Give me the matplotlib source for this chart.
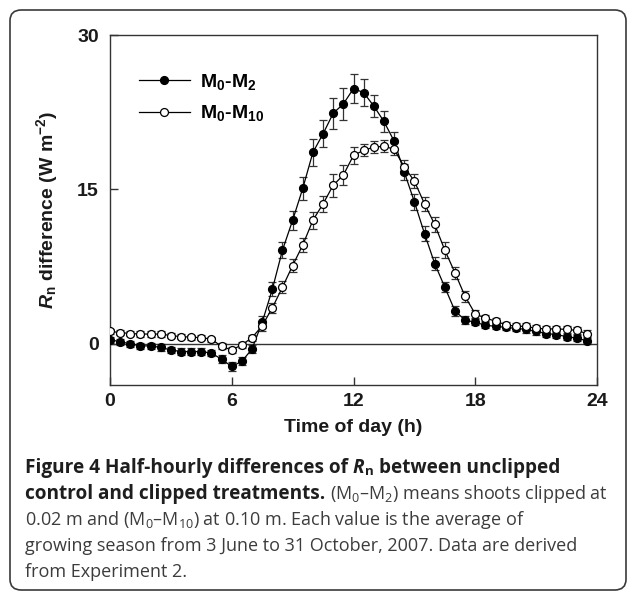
import numpy as np
import matplotlib
matplotlib.use("Agg")
import matplotlib.pyplot as plt
from matplotlib.patches import FancyBboxPatch

# ---------------- data ----------------
hours = np.arange(48) * 0.5  # half-hourly time of day (h)

m0_m2 = [0.4, 0.2, 0.0, -0.2, -0.2, -0.35, -0.6, -0.75, -0.75, -0.75,
         -0.9, -1.5, -2.2, -1.7, -0.5, 2.1, 5.3, 9.1, 12.0, 15.1,
         18.6, 20.4, 22.4, 23.3, 24.8, 24.4, 23.1, 21.6, 19.7, 16.7,
         13.8, 10.7, 7.8, 5.5, 3.2, 2.3, 2.1, 1.8, 1.7, 1.6,
         1.5, 1.4, 1.2, 1.0, 0.9, 0.7, 0.55, 0.3]
m0_m2_err = [0.3, 0.3, 0.3, 0.3, 0.3, 0.3, 0.3, 0.3, 0.3, 0.3,
             0.3, 0.4, 0.4, 0.4, 0.4, 0.6, 0.7, 0.8, 0.9, 1.1,
             1.3, 1.3, 1.5, 1.6, 1.4, 1.3, 1.1, 1.0, 0.9, 0.8,
             0.8, 0.7, 0.6, 0.5, 0.5, 0.4, 0.3, 0.3, 0.3, 0.3,
             0.3, 0.3, 0.3, 0.3, 0.3, 0.3, 0.3, 0.3]

m0_m10 = [1.2, 1.1, 1.0, 0.95, 0.95, 0.95, 0.8, 0.7, 0.65, 0.6,
          0.45, -0.25, -0.6, -0.1, 0.6, 1.75, 3.5, 5.5, 7.6, 9.6,
          12.0, 13.6, 15.4, 16.4, 18.3, 18.8, 19.1, 19.2, 18.9, 17.2,
          15.8, 13.6, 11.6, 9.1, 6.9, 4.6, 2.9, 2.5, 2.2, 1.85,
          1.7, 1.7, 1.5, 1.45, 1.45, 1.4, 1.3, 1.0]
m0_m10_err = [0.25, 0.25, 0.25, 0.25, 0.25, 0.25, 0.25, 0.25, 0.25, 0.25,
              0.25, 0.3, 0.3, 0.3, 0.3, 0.5, 0.5, 0.6, 0.6, 0.7,
              0.8, 0.8, 1.1, 1.0, 0.8, 0.6, 0.6, 0.6, 0.6, 0.7,
              0.7, 0.7, 0.75, 0.8, 0.6, 0.5, 0.4, 0.3, 0.3, 0.3,
              0.3, 0.3, 0.3, 0.3, 0.3, 0.3, 0.3, 0.3]

series_labels = ["M$_0$-M$_2$", "M$_0$-M$_{10}$"]
x_ticks = [0, 6, 12, 18, 24]
y_ticks = [0, 15, 30]
x_label = "Time of day (h)"
y_label = "$\\mathit{R}_{n}$ difference (W m$^{\\mathregular{-2}}$)"

caption_lines = [
    [("Figure 4 Half-hourly differences of ", "bold", "normal"),
     ("R", "bold", "italic"),
     ("$_{n}$", "bold", "normal"),
     (" between unclipped", "bold", "normal")],
    [("control and clipped treatments.", "bold", "normal"),
     (" (M$_0$\u2013M$_2$) means shoots clipped at", "normal", "normal")],
    [("0.02 m and (M$_0$\u2013M$_{10}$) at 0.10 m. Each value is the average of", "normal", "normal")],
    [("growing season from 3 June to 31 October, 2007. Data are derived", "normal", "normal")],
    [("from Experiment 2.", "normal", "normal")],
]

# ---------------- style ----------------
plt.rcParams['font.family'] = ['Liberation Sans', 'DejaVu Sans']
plt.rcParams['mathtext.fontset'] = 'custom'
plt.rcParams['mathtext.default'] = 'regular'
plt.rcParams['mathtext.it'] = 'Liberation Sans:italic:bold'
plt.rcParams['mathtext.rm'] = 'Liberation Sans:bold'
plt.rcParams['mathtext.bf'] = 'Liberation Sans:bold'

W, H = 627, 593
fig = plt.figure(figsize=(W / 100, H / 100), dpi=100)

# rounded outer frame
box = FancyBboxPatch((10 / W, 3 / H), 616 / W, 580 / H,
                     boxstyle="round,pad=0,rounding_size=0.018",
                     transform=fig.transFigure, fill=False,
                     edgecolor="#3a3a3a", linewidth=1.2)
fig.patches.append(box)

ax = fig.add_axes([110 / W, 1 - 385 / H, 487 / W, 350 / H])
spine_col = "#333333"
for s in ax.spines.values():
    s.set_color(spine_col)
    s.set_linewidth(1.0)

ax.axhline(0, color=spine_col, lw=1.0, zorder=1)

ax.errorbar(hours, m0_m2, yerr=m0_m2_err, fmt='none', ecolor="#333333",
            elinewidth=0.9, capsize=3.0, capthick=0.9, zorder=2)
ax.errorbar(hours, m0_m10, yerr=m0_m10_err, fmt='none', ecolor="#333333",
            elinewidth=0.9, capsize=3.0, capthick=0.9, zorder=2)

l1, = ax.plot(hours, m0_m2, '-o', color='black', lw=0.9, ms=5.7,
              mfc='black', mec='black', mew=0.9, zorder=3,
              label=series_labels[0])
l2, = ax.plot(hours, m0_m10, '-o', color='black', lw=0.9, ms=5.7,
              mfc='white', mec='black', mew=0.9, zorder=4,
              label=series_labels[1])

ax.set_xlim(0, 24)
ax.set_ylim(-4, 30)
ax.set_xticks(x_ticks)
ax.set_yticks(y_ticks)
ax.tick_params(direction='in', length=6, width=1.0, color=spine_col,
               labelsize=14, top=False, right=False)
ax.tick_params(axis='y', pad=8)
ax.tick_params(axis='x', pad=6)
for lab in ax.get_xticklabels() + ax.get_yticklabels():
    lab.set_fontweight('bold')
    lab.set_color('#1a1a1a')

ax.set_xlabel(x_label, fontsize=14, fontweight='bold', color='#1a1a1a', labelpad=6)
ax.set_ylabel(y_label, fontsize=14, fontweight='bold', color='#1a1a1a')
ax.yaxis.set_label_coords(-0.103, 0.5)

leg = ax.legend(handles=[l1, l2], loc='upper left',
                bbox_to_anchor=(0.06, 0.895), frameon=False,
                prop={'weight': 'bold', 'size': 14},
                handlelength=2.6, handletextpad=0.55, labelspacing=0.6,
                borderpad=0, borderaxespad=0)

# ---------------- caption ----------------
renderer = fig.canvas.get_renderer()
cap_family = ['Open Sans', 'DejaVu Sans']


def measure(txt, size, weight, style):
    t = fig.text(0, 0, txt, fontsize=size, fontweight=weight, fontstyle=style,
                 family=cap_family)
    w = t.get_window_extent(renderer).width
    t.remove()
    return w


def piece_width(txt, size, weight, style):
    core = txt.strip(' ')
    nlead = len(txt) - len(txt.lstrip(' '))
    ntrail = len(txt) - len(txt.rstrip(' '))
    sp = measure('x x', size, weight, style) - measure('xx', size, weight, style)
    return measure(core, size, weight, style), nlead * sp, ntrail * sp


def line_width(line, sizes):
    tot = 0
    for txt, wgt, sty in line:
        c, a, b = piece_width(txt, sizes[wgt], wgt, sty)
        tot += a + c + b
    return tot


# bold size fitted to line 1 of the reference, regular size fitted to line 2
base = 13.0
bold_size = base * 532.0 / line_width(caption_lines[0], {'bold': base, 'normal': base})
bold_part = line_width(caption_lines[1][:1], {'bold': bold_size, 'normal': base})
reg_part = line_width(caption_lines[1][1:], {'bold': bold_size, 'normal': base})
reg_size = base * (583.0 - bold_part) / reg_part
sizes = {'bold': bold_size, 'normal': reg_size}
colors = {'bold': '#1e1e1e', 'normal': '#3c3c3c'}

baselines = [473, 499, 525, 551, 577]
for line, yb in zip(caption_lines, baselines):
    x = 25.0
    for txt, wgt, sty in line:
        c, a, b = piece_width(txt, sizes[wgt], wgt, sty)
        x += a
        fig.text(x / W, 1 - yb / H, txt.strip(' '), fontsize=sizes[wgt],
                 fontweight=wgt, fontstyle=sty, family=cap_family,
                 color=colors[wgt], ha='left', va='baseline')
        x += c + b

fig.savefig('out.png', dpi=100)
